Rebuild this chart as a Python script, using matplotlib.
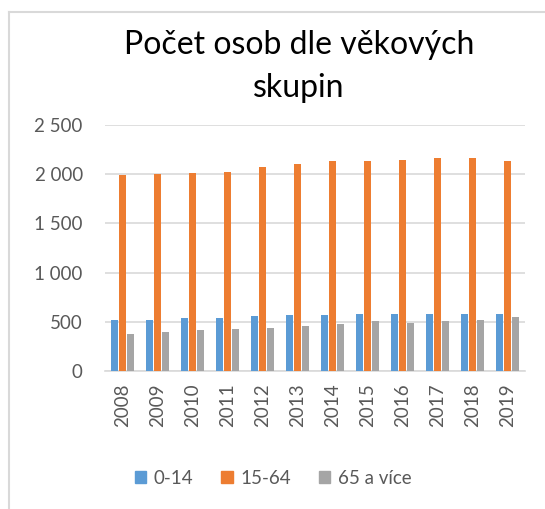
import matplotlib.pyplot as plt
import numpy as np
from matplotlib.patches import Rectangle
from matplotlib.lines import Line2D

plt.rcParams['font.family'] = ['Lato', 'DejaVu Sans']

# data
years = ['2008', '2009', '2010', '2011', '2012', '2013',
         '2014', '2015', '2016', '2017', '2018', '2019']
age_0_14 = [514, 514, 540, 540, 554, 568, 568, 581, 581, 581, 581, 581]
age_15_64 = [1987, 2000, 2013, 2027, 2078, 2105, 2130, 2130, 2145, 2160, 2160, 2130]
age_65 = [372, 395, 412, 422, 439, 453, 480, 504, 490, 504, 517, 544]
series_names = ['0-14', '15-64', '65 a více']
colors = ['#5b9bd5', '#ed7d31', '#a5a5a5']
yticks = [0, 500, 1000, 1500, 2000, 2500]
ytick_labels = ['0', '500', '1 000', '1 500', '2 000', '2 500']

fig = plt.figure(figsize=(5.45, 5.09), dpi=100)

# chart area border (left + top visible)
fig.add_artist(Line2D([9/545, 9/545], [0, 1 - 12/509], color='#d9d9d9', lw=1.5))
fig.add_artist(Line2D([9/545, 1], [1 - 12/509, 1 - 12/509], color='#d9d9d9', lw=1.5))

ax = fig.add_axes([105/545, 1 - 371/509, 420/545, (371 - 125)/509])

x = np.arange(len(years))
w = 0.18
off = 0.225
for i, vals in enumerate([age_0_14, age_15_64, age_65]):
    ax.bar(x + (i - 1) * off, vals, width=w, color=colors[i], label=series_names[i], zorder=3)

ax.set_xlim(-0.5, len(years) - 0.5)
ax.set_ylim(0, 2500)
ax.set_yticks(yticks)
ax.set_yticklabels(ytick_labels)
ax.set_xticks(x)
ax.set_xticklabels(years, rotation=90)
ax.grid(axis='y', color='#d9d9d9', lw=1.2, zorder=0)
for s in ['top', 'right', 'left']:
    ax.spines[s].set_visible(False)
ax.spines['bottom'].set_color('#d9d9d9')
ax.spines['bottom'].set_linewidth(1.2)
ax.tick_params(axis='both', length=0, labelsize=13.5, colors='#595959')
ax.tick_params(axis='y', pad=16)
ax.tick_params(axis='x', pad=9)

fig.text(299/545, 1 - 45/509, 'Počet osob dle věkových', ha='center', va='center',
         fontsize=23, color='#000000')
fig.text(299/545, 1 - 88/509, 'skupin', ha='center', va='center',
         fontsize=23, color='#000000')

handles = [Rectangle((0, 0), 1, 1, color=c) for c in colors]
fig.legend(handles, series_names, loc='center', bbox_to_anchor=(273/545, 1 - 478/509),
           ncol=3, frameon=False, fontsize=13.5, labelcolor='#595959',
           handlelength=0.6, handleheight=0.6, handletextpad=0.4, columnspacing=1.5)

fig.savefig('out.png', dpi=100)
